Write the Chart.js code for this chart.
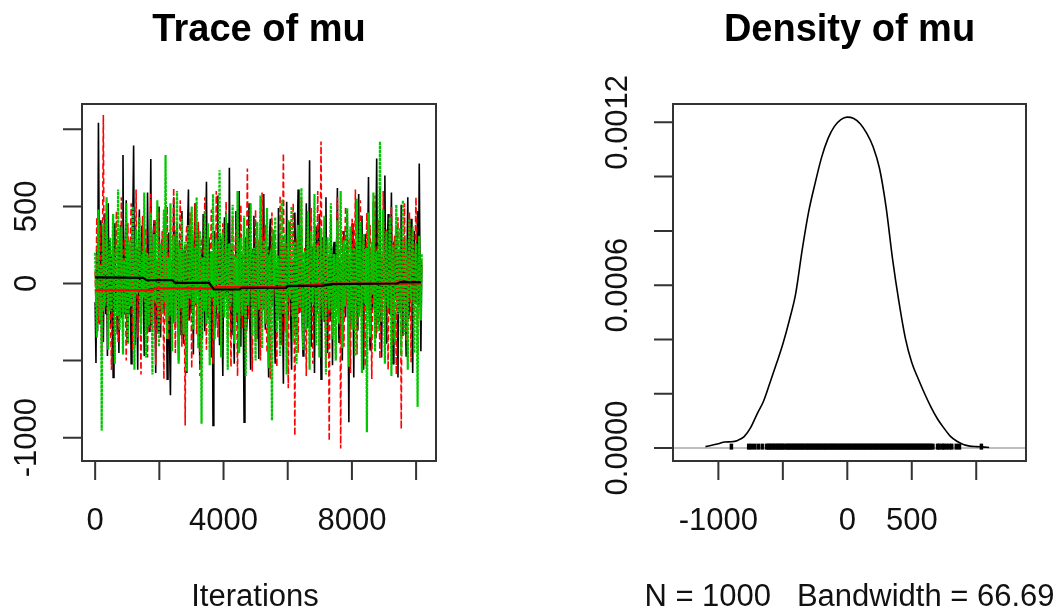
<!DOCTYPE html>
<html>
<head>
<meta charset="utf-8">
<script src="https://cdn.jsdelivr.net/npm/chart.js@4.4.1/dist/chart.umd.min.js"></script>
<style>
  html, body { margin: 0; padding: 0; background: #fff; }
  #wrap { position: relative; width: 1058px; height: 612px; }
  #wrap canvas { position: absolute; left: 0; top: 0; }
</style>
</head>
<body>
<div id="wrap">
  <canvas id="traceChart" width="1058" height="612"></canvas>
  <canvas id="densChart" width="1058" height="612"></canvas>
</div>
<script>
// --- trace data: 3 chains, thinned (one value every 25.5 iterations) ---
const thin = 25.5;
const chain1 = [
  -120, -515, 230, -310, 1042, 180, -260, 410, -90, 310, -380, 120, 455, -200, 60, -470, 520, -150, 280, -290,
  180, -40, -610, 350, 390, -180, 70, -330, 250, -450, 140, 380, -220, 40, 833, -120, -200, 290, 540, -380,
  -330, 160, 260, -90, -520, 310, 420, 895, -150, -400, 230, -60, -560, 270, 480, -210, -90, 360, 350, -140,
  -470, 220, 160, -300, 590, 70, -310, 190, 807, -280, -240, 330, 410, -100, -580, 150, 120, -320, 500, 30,
  -350, 200, 280, -170, -140, 310, 460, -50, -620, 240, 330, -410, -724, 90, 150, -260, 560, 20, -280, 340,
  390, -150, -500, 280, 40, -330, 470, -80, -390, 210, 250, -120, -580, 380, 610, -240, -170, 330, 320, -60,
  -460, 260, 520, -140, -30, 290, 380, -210, -540, 140, 200, -360, 450, 60, -310, 240, 660, -170, -220, 300,
  110, -260, -480, 190, -921, 80, 340, -290, -150, 210, 570, -120, -400, 310, 260, -250, -600, 170, 430, -20,
  -80, 240, 390, -160, 750, -90, -330, 220, 180, -270, -520, 130, 470, -150, -260, 330, 600, -110, -410, 200,
  90, -230, -900, 150, 300, -310, -180, 120, 520, -240, -560, 200, 210, -140, 440, 50, -370, 280, 150, -190,
  -490, 160, 360, -270, -70, 230, 580, -130, -300, 180, 240, -200, -610, 310, 420, -90, -140, 270, 330, -320,
  -520, 100, 60, -240, 490, 30, -380, 210, 280, -170, -650, 260, 170, -110, 530, -60, -240, 190, 400, -230,
  -560, 140, 120, -280, 460, 80, -330, 290, 610, -150, -190, 230, 350, -260, -470, 110, 80, -190, 520, 40,
  -290, 180, 800, -160, -410, 220, 240, -90, -580, 150, 370, -200, -100, 260, 450, -130, -620, 210, 300, -40,
  -250, 190, 560, -180, -450, 120, 180, -240, 410, 60, -530, 230, 270, -110, -160, 200, 620, -170, -380, 140,
  90, -210, -500, 260, 340, -150, -220, 170, 470, -80, -900, 130, 150, -260, 390, 40, -610, 220, 260, -90,
  -300, 210, 580, -160, -120, 270, 440, -200, -560, 180, 320, -120, -80, 230, 690, -140, -430, 200, 210, -170,
  530, 60, -350, 240, 810, -130, -270, 190, 620, -210, -480, 170, 160, -90, 700, 20, -390, 230, 450, -160,
  -200, 150, 590, -120, -520, 260, 280, -80, 380, 110, -610, 220, 130, -190, 510, 30, -340, 200, 260, -150,
  -470, 140, 560, -230, -150, 180, 420, -50, -580, 250, 340, -120, -60, 210, 470, -140, 778, 60, -440, 120
];
const chain2 = [
  80, -150, 430, -60, -260, 210, 380, -120, -470, 250, 1092, -90, -150, 300, 510, -200, -400, 140, 220, -310,
  -560, 180, 350, -40, -90, 260, 470, -230, -380, 120, 160, -180, 560, 40, -320, 230, 290, -110, -500, 200,
  390, -70, -210, 240, 520, -150, -440, 170, 130, -260, 610, 50, -350, 220, 270, -140, -590, 190, 440, -30,
  -120, 230, 360, -180, -480, 120, 200, -290, 580, 70, -300, 250, 410, -100, -530, 160, 90, -220, 470, 20,
  -260, 190, 340, -130, -620, 210, 180, -250, 500, 40, -370, 230, 250, -160, -150, 300, 620, -80, -450, 180,
  300, -110, -80, 270, 540, -190, -410, 150, 210, -60, -921, 280, 380, -140, -240, 170, 460, -30, -550, 220,
  170, -160, 520, 40, -330, 230, 400, -90, -600, 250, 270, -140, -110, 190, 560, -70, -430, 210, 310, -180,
  -260, 150, 480, -60, -520, 220, 140, -180, 600, 30, -350, 260, 230, -140, -470, 170, 390, -80, -190, 240,
  530, -100, -380, 210, 260, -190, -540, 160, 440, -30, -120, 250, 350, -170, -600, 130, 190, -220, 510, 60,
  -290, 200, 420, -140, -460, 180, 745, -60, -230, 240, 300, -170, -570, 140, 160, -210, 480, 50, -360, 230,
  280, -120, -500, 190, 590, -70, -170, 250, 380, -160, -450, 120, 220, -240, -620, 180, 460, -40, -90, 270,
  330, -130, -540, 150, 150, -200, 570, 30, -400, 220, 844, -90, -310, 260, 250, -180, -680, 170, 400, -50,
  -210, 230, 520, -120, -987, 190, 300, -70, -450, 240, 160, -190, 560, 60, -380, 200, 230, -150, -600, 180,
  410, -80, -140, 250, 490, -170, -520, 150, 350, -40, -260, 230, 600, -110, -430, 170, 921, -60, -170, 240,
  370, -140, -550, 200, 260, -80, -1020, 160, 450, -210, -320, 130, 180, -170, -490, 230, 560, -30, -230, 210,
  -1070, 140, 340, -180, -410, 250, 500, -100, -150, 200, 280, -240, -580, 160, 420, -60, -300, 220, 610, -120,
  -460, 170, 190, -210, 540, 50, -370, 240, 300, -130, -540, 150, 460, -80, -180, 260, 380, -170, -620, 190,
  220, -110, 570, 40, -330, 210, 410, -150, -490, 180, 150, -200, 600, 30, -270, 230, 350, -110, -560, 160,
  240, -170, 500, 60, -400, 200, 310, -90, -590, 230, 430, -130, -140, 180, -943, 90, 290, -160, 520, 40,
  -380, 210, 180, -120, 460, 30, -510, 190, 340, -100, -220, 240, 560, -60, -450, 170, 300, -130, -200, 150
];
const chain3 = [
  200, -90, -350, 160, 480, -30, -240, 120, -954, 210, 390, -140, -120, 250, 560, -60, -430, 180, 300, -100,
  -180, 220, 450, -50, -520, 170, 240, -210, 610, 40, -300, 200, 370, -120, -460, 150, 130, -190, 520, 60,
  -390, 160, 280, -80, -150, 240, 500, -130, -560, 190, 350, -70, -40, 230, 430, -160, -330, 120, 210, -90,
  590, 30, -480, 200, 170, -140, -270, 210, 460, -40, -590, 180, 320, -100, -110, 250, 540, -130, -410, 170,
  260, -60, -200, 190, 480, -120, 833, 40, -360, 160, 150, -210, 520, 20, -440, 230, 310, -80, -250, 150,
  600, -50, -520, 210, 190, -160, 420, 60, -330, 180, 270, -200, -570, 140, 380, -100, -90, 220, 500, -30,
  -300, 160, 230, -130, 560, 20, -420, 190, 340, -60, -910, 170, 120, -180, 470, 30, -260, 210, 390, -110,
  -530, 140, 210, -90, 580, -20, -360, 230, 290, -130, -150, 180, 735, -70, -480, 200, 330, -110, -220, 160,
  450, -40, -560, 190, 260, -150, -100, 230, 510, -60, -390, 170, 170, -190, 600, 20, -450, 210, 300, -120,
  -210, 180, 440, -80, -600, 150, 360, -140, -30, 210, 520, -70, -340, 190, 230, -150, -500, 140, 400, -40,
  -170, 220, 570, -110, -420, 160, 280, -60, -260, 200, 490, -90, -550, 170, 190, -180, -888, 120, 350, -30,
  430, -90, -310, 180, 150, -140, -470, 200, 540, -40, -200, 230, 320, -150, -590, 160, 410, -70, -80, 190,
  500, -40, -380, 210, 270, -120, -520, 170, 380, -90, -160, 240, 620, -20, -430, 180, 210, -140, -300, 160,
  470, -80, -560, 190, 340, -110, -120, 220, 580, -50, -400, 160, 250, -130, -480, 200, 360, -70, -230, 150,
  440, -100, -590, 170, 300, -60, -170, 230, 520, -120, -360, 140, 190, -180, -500, 210, 410, -40, -260, 180,
  600, -70, -420, 190, 280, -150, -80, 240, 490, -30, -540, 170, 370, -110, -300, 200, 230, -120, -470, 160,
  550, -50, -220, 210, 400, -130, -580, 180, 320, -90, -130, 230, -965, 40, 460, -160, -350, 150, 270, -70,
  590, -20, -440, 190, 200, -170, -310, 220, 921, -40, -250, 160, 480, -100, -520, 180, 340, -80, -160, 210,
  430, -60, -600, 170, 250, -140, -380, 200, 510, -50, -200, 230, 360, -90, -470, 150, 540, -30, -330, 190,
  290, -120, -560, 160, 420, -70, -90, 210, 370, -150, -450, 180, 260, -110, -800, 140, 310, -60, -240, 190
];
// smoothed running lines [iteration, value]
const smooth1 = [[0, 40], [1500, 37], [1600, 22], [2400, 22], [2500, 4], [3550, 4], [3700, -39], [4500, -39], [4560, -28], [5950, -28], [6000, -15], [7060, -15], [7400, -4], [9400, 0], [9500, 9], [10150, 9]];
const smooth2 = [[0, -44], [1800, -44], [1850, -31], [3690, -31], [3750, -24], [5970, -22], [7400, 0], [10150, 0]];

const traceXTicks = [0, 2000, 4000, 6000, 8000, 10000];
const traceXLabels = ['0', '', '4000', '', '8000', ''];
const traceYTicks = [-1000, -500, 0, 500, 1000];
const traceYLabels = ['-1000', '', '0', '500', ''];

// --- density data ---
const densX = [-1100, -1000, -950, -900, -850, -800, -750, -700, -650, -600, -550, -500, -450, -400, -350, -300, -250, -200, -150, -100, -50,
  0, 50, 100, 150, 200, 250, 300, 350, 400, 450, 500, 550, 600, 650, 700, 750, 800, 850, 900, 950, 1000, 1050, 1100];
const densY = [0.000005, 0.000016, 0.000022, 0.000023, 0.000028, 0.000042, 0.000075, 0.000125, 0.000172, 0.00024, 0.00031, 0.000383, 0.00047, 0.00057, 0.00073, 0.00087, 0.000975, 0.00107, 0.00114, 0.001185, 0.00121,
  0.001219, 0.001214, 0.001195, 0.00116, 0.00111, 0.00103, 0.00089, 0.0007, 0.00054, 0.000405, 0.000315, 0.000255, 0.0002, 0.00015, 0.000107, 0.000073, 0.000043, 0.000025, 0.000013, 0.000007, 0.000005, 0.000004, 0.000002];
const rugObs = [-899, -765, -745, -718, -690, -660,
  -627, -612, -600, -585, -570, -558, -541, -530, -515, -502, -488, -470, -459, -445, -430, -418, -402, -390, -377, -361, -350, -336, -320, -309,
  -295, -281, -268, -254, -240, -228, -213, -200, -186, -172, -160, -146, -131, -119, -104, -92, -78, -63, -50, -36, -22, -9, 5, 18, 32, 47,
  60, 74, 88, 101, 115, 129, 142, 156, 170, 183, 197, 211, 224, 238, 252, 266, 279, 293, 306, 320, 334, 347, 361, 375, 388, 402, 416, 429,
  443, 457, 470, 484, 498, 511, 525, 539, 552, 566, 580, 593, 607, 621, 634, 648, 664,
  700, 712, 735, 748, 768, 790, 810, 845, 870, 1040];
const densMax = 0.001219;

const densXTicks = [-1000, -500, 0, 500, 1000];
const densXLabels = ['-1000', '', '0', '500', ''];
const densYTicks = [0, 0.0002, 0.0004, 0.0006, 0.0008, 0.001, 0.0012];
const densYLabels = ['0.0000', '', '', '0.0006', '', '', '0.0012'];

// --- R style box, ticks and labels ---
const FONT = '"Liberation Sans", Arial, sans-serif';
const rAxes = {
  id: 'rAxes',
  beforeDatasetsDraw(chart, args, o) {
    if (!o.zeroLine) return;
    const { ctx, chartArea: a, scales: { y } } = chart;
    const py = y.getPixelForValue(0);
    ctx.save();
    ctx.strokeStyle = '#bebebe';
    ctx.lineWidth = 2;
    ctx.beginPath();
    ctx.moveTo(a.left, py);
    ctx.lineTo(a.right, py);
    ctx.stroke();
    ctx.restore();
  },
  afterDraw(chart, args, o) {
    const { ctx, chartArea: a, scales: { x, y } } = chart;
    ctx.save();
    ctx.strokeStyle = '#333';
    ctx.lineWidth = 2;
    ctx.strokeRect(a.left, a.top, a.right - a.left, a.bottom - a.top);
    ctx.beginPath();
    o.xTicks.forEach(v => {
      const px = x.getPixelForValue(v);
      ctx.moveTo(px, a.bottom);
      ctx.lineTo(px, a.bottom + 19);
    });
    o.yTicks.forEach(v => {
      const py = y.getPixelForValue(v);
      ctx.moveTo(a.left, py);
      ctx.lineTo(a.left - 19, py);
    });
    ctx.stroke();

    ctx.fillStyle = '#111';
    ctx.textAlign = 'center';
    ctx.textBaseline = 'alphabetic';
    ctx.font = '31px ' + FONT;
    o.xTicks.forEach((v, i) => {
      if (o.xLabels[i]) ctx.fillText(o.xLabels[i], x.getPixelForValue(v), 530);
    });
    o.yTicks.forEach((v, i) => {
      if (!o.yLabels[i]) return;
      ctx.save();
      ctx.translate(a.left - 46, y.getPixelForValue(v));
      ctx.rotate(-Math.PI / 2);
      ctx.fillText(o.yLabels[i], 0, 0);
      ctx.restore();
    });
    const cx = (a.left + a.right) / 2;
    ctx.fillText(o.xTitle, cx + o.xTitleShift, 606);
    ctx.fillStyle = '#000';
    ctx.font = 'bold 38px ' + FONT;
    ctx.fillText(o.title, cx, 41);
    ctx.restore();
  }
};

const toPts = arr => arr.map((v, i) => ({ x: i * thin, y: v }));
const pairPts = arr => arr.map(p => ({ x: p[0], y: p[1] }));
const baseLine = { pointRadius: 0, fill: false, tension: 0 };

new Chart(document.getElementById('traceChart'), {
  type: 'line',
  data: {
    datasets: [
      { ...baseLine, label: 'smooth 1', data: pairPts(smooth1), borderColor: '#000', borderWidth: 2.2, order: 0 },
      { ...baseLine, label: 'smooth 2', data: pairPts(smooth2), borderColor: '#ff0000', borderWidth: 2.2, order: 0 },
      { ...baseLine, label: 'chain 3', data: toPts(chain3), borderColor: '#00c800', borderWidth: 2.2, borderDash: [3, 1], order: 1 },
      { ...baseLine, label: 'chain 2', data: toPts(chain2), borderColor: '#ff0000', borderWidth: 1.6, borderDash: [6, 3], order: 2 },
      { ...baseLine, label: 'chain 1', data: toPts(chain1), borderColor: '#000', borderWidth: 1.6, order: 3 }
    ]
  },
  options: {
    responsive: false,
    animation: false,
    devicePixelRatio: 1,
    layout: { padding: { left: 82, top: 104, right: 622, bottom: 151 } },
    scales: {
      x: { type: 'linear', display: false, min: -410, max: 10620 },
      y: { type: 'linear', display: false, min: -1151, max: 1164 }
    },
    plugins: {
      legend: { display: false },
      tooltip: { enabled: false },
      rAxes: {
        xTicks: traceXTicks, xLabels: traceXLabels,
        yTicks: traceYTicks, yLabels: traceYLabels,
        title: 'Trace of mu', xTitle: 'Iterations', xTitleShift: -4, zeroLine: false
      }
    }
  },
  plugins: [rAxes]
});

new Chart(document.getElementById('densChart'), {
  type: 'line',
  data: {
    datasets: [
      {
        label: 'density', data: densX.map((v, i) => ({ x: v, y: densY[i] })),
        borderColor: '#000', borderWidth: 1.6, pointRadius: 0, fill: false,
        cubicInterpolationMode: 'monotone'
      },
      {
        type: 'scatter', label: 'obs', data: rugObs.map(v => ({ x: v, y: densMax / 240 })),
        pointStyle: 'line', rotation: 90, pointRadius: 3, pointBorderWidth: 3.5,
        pointBorderColor: '#000', pointBackgroundColor: '#000'
      }
    ]
  },
  options: {
    responsive: false,
    animation: false,
    devicePixelRatio: 1,
    layout: { padding: { left: 673, top: 104, right: 32, bottom: 151 } },
    scales: {
      x: { type: 'linear', display: false, min: -1352, max: 1386 },
      y: { type: 'linear', display: false, min: -0.0000479, max: 0.0012675 }
    },
    plugins: {
      legend: { display: false },
      tooltip: { enabled: false },
      rAxes: {
        xTicks: densXTicks, xLabels: densXLabels,
        yTicks: densYTicks, yLabels: densYLabels,
        title: 'Density of mu', xTitle: 'N = 1000   Bandwidth = 66.69', xTitleShift: 0, zeroLine: true
      }
    }
  },
  plugins: [rAxes]
});
</script>
</body>
</html>
